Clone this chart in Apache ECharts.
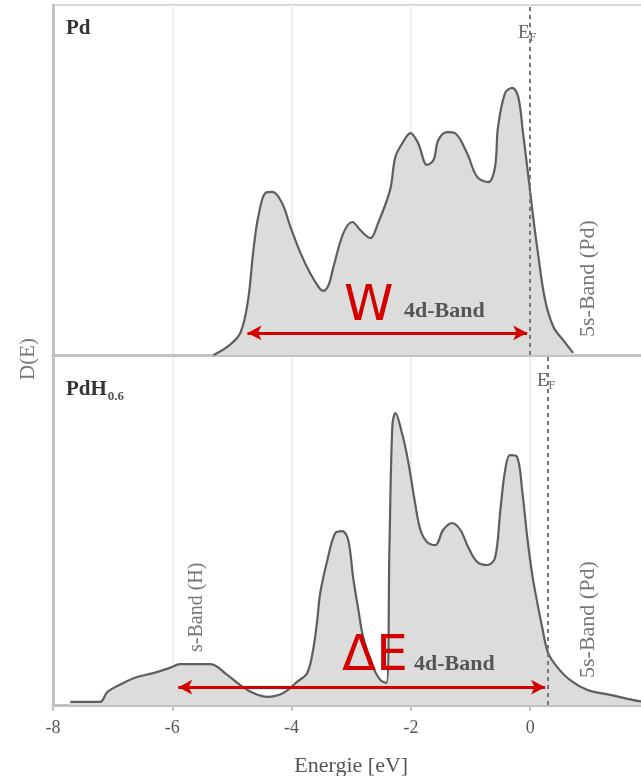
<!DOCTYPE html>
<html lang="de">
<head>
    <meta charset="UTF-8">
    <title>Zustandsdichte Pd / PdH</title>
    <script type="text/javascript" src="https://cdn.jsdelivr.net/npm/echarts@6/dist/echarts.min.js"></script>
    <style>
        html, body { margin: 0; padding: 0; background: #fff; }
        #chart { width: 641px; height: 776px; }
    </style>
</head>
<body>
<div id="chart"></div>
<script>
    // Pd: Energie [eV] und D(E) (willkuerliche Einheiten, 0..100)
    const pdEnergy = [-5.31, -5.08, -4.86, -4.73, -4.64, -4.56, -4.44, -4.32, -4.16, -4.02, -3.85, -3.69, -3.55,
        -3.47, -3.38, -3.30, -3.13, -2.98, -2.85, -2.68, -2.55, -2.35, -2.26, -2.14, -2.01, -1.88, -1.73, -1.62, -1.54,
        -1.39, -1.26, -1.06, -0.89, -0.70, -0.59, -0.54, -0.42, -0.30, -0.20, -0.12, -0.03, 0.05, 0.13, 0.25,
        0.39, 0.55, 0.72];
    const pdDos = [0, 2.3, 6.3, 15.7, 30, 39.4, 46.3, 46.6, 43.4, 36.6, 29.1, 23.4, 19.5,
        18.3, 20, 25.1, 34.9, 38, 35.7, 33.4, 37.7, 47.1, 56.6, 60.6, 63.4, 60.6, 54.3, 55.7, 61.4,
        63.7, 63.4, 57.7, 50.9, 49.4, 53.7, 65.1, 74.9, 76.3, 73.7, 63.4, 50.9, 39.4, 29.1, 15.7,
        8, 4.3, 0.6];

    // PdH0.6
    const pdhEnergy = [-7.71, -7.21, -7.09, -6.82, -6.59, -6.32, -6.04, -5.87, -5.36, -5.08, -4.86, -4.64, -4.41,
        -4.14, -3.91, -3.74, -3.64, -3.57, -3.52, -3.40, -3.27, -3.15, -3.05, -2.97, -2.88, -2.80, -2.65, -2.51,
        -2.41, -2.36, -2.31, -2.26, -2.15, -2.05, -1.93, -1.84, -1.73, -1.59, -1.46, -1.31, -1.17, -1.04, -0.89,
        -0.72, -0.59, -0.50, -0.42, -0.34, -0.22, -0.13, -0.05, 0.03, 0.12, 0.20, 0.30, 0.45, 0.67, 0.96, 1.34,
        1.73, 2.0];
    const pdhDos = [0.9, 0.9, 3.7, 6.3, 8, 9.1, 10.6, 11.7, 11.7, 8.6, 5.7, 3.4, 2.3,
        3.4, 6.6, 9.1, 15.7, 24.3, 32, 41.4, 49.1, 49.7, 47.1, 36.6, 27.1, 19.4, 11.4, 7.1,
        6.3, 45, 80, 83.4, 77.7, 70, 57.7, 50, 46.6, 45.7, 50, 52, 50, 45.1, 40.9,
        40, 42, 55.7, 67.1, 71.4, 70.9, 60.6, 48, 37.7, 29.1, 22.3, 14.9, 10.9, 7.1, 4.3, 2.9,
        1.4, 0.7];

    const xTicks = [-8, -6, -4, -2, 0];
    const fermiPd = 0;
    const fermiPdH = 0.3;
    const bandW = [-4.74, -0.05];      // Breite W des 4d-Bandes (Pd)
    const bandDeltaE = [-5.9, 0.25];   // Abstand Delta E (PdH)

    const serif = '"Liberation Serif", "DejaVu Serif", serif';
    const axisGray = '#c2c2c2';
    const red = '#d40000';

    const chart = echarts.init(document.getElementById('chart'));

    const pair = (xs, ys) => xs.map((x, i) => [x, ys[i]]);

    function xAxisOf(idx, showLabels) {
        return {
            type: 'value',
            gridIndex: idx,
            min: -8,
            max: 2,
            interval: 2,
            axisLine: { show: true, onZero: false, lineStyle: { color: axisGray, width: 3 } },
            axisTick: { show: showLabels, length: 6, lineStyle: { color: axisGray, width: 2 } },
            axisLabel: {
                show: showLabels, fontFamily: serif, fontSize: 18, color: '#555', margin: 14,
                formatter: v => xTicks.indexOf(v) >= 0 ? String(v) : ''
            },
            splitLine: { show: true, lineStyle: { color: '#eeeeee', width: 2 } },
            name: showLabels ? 'Energie [eV]' : '',
            nameLocation: 'middle',
            nameGap: 50,
            nameTextStyle: { fontFamily: serif, fontSize: 22, color: '#555' }
        };
    }

    function yAxisOf(idx) {
        return {
            type: 'value',
            gridIndex: idx,
            min: 0,
            max: 100,
            axisLine: { show: true, onZero: false, lineStyle: { color: axisGray, width: 3 } },
            axisTick: { show: false },
            axisLabel: { show: false },
            splitLine: { show: false }
        };
    }

    function dosSeries(idx, data, fermi) {
        return {
            type: 'line',
            xAxisIndex: idx,
            yAxisIndex: idx,
            data: data,
            smooth: 0.35,
            showSymbol: false,
            lineStyle: { color: '#5e5e5e', width: 2.2 },
            areaStyle: { color: '#dcdcdc', opacity: 1 },
            z: 2,
            markLine: {
                silent: true,
                animation: false,
                symbol: 'none',
                label: { show: false },
                lineStyle: { type: [4, 4], color: '#777', width: 2 },
                data: [{ xAxis: fermi }]
            }
        };
    }

    function arrowSeries(idx, range, y) {
        return {
            type: 'line',
            xAxisIndex: idx,
            yAxisIndex: idx,
            data: [],
            z: 5,
            markLine: {
                silent: true,
                animation: false,
                symbol: ['arrow', 'arrow'],
                symbolSize: [11, 14],
                label: { show: false },
                lineStyle: { color: red, width: 3, type: 'solid' },
                data: [[{ coord: [range[0], y] }, { coord: [range[1], y] }]]
            }
        };
    }

    function txt(x, y, text, style, rot) {
        return {
            type: 'text', x: x, y: y, rotation: rot || 0, z: 10,
            style: Object.assign({ text: text, fill: '#555', font: '15px ' + serif }, style)
        };
    }

    function fermiLabel(x, y) {
        return {
            type: 'text', x: x, y: y, z: 10,
            style: {
                text: '{e|E}{f|F}',
                rich: {
                    e: { font: '19px ' + serif, fill: '#666' },
                    f: { font: '12px ' + serif, fill: '#666', padding: [10, 0, 0, 0] }
                }
            }
        };
    }

    const option = {
        animation: false,
        grid: [
            {
                left: 53, top: 5, width: 596.5, height: 350, outerBoundsMode: 'none',
                show: true, borderColor: '#d6d6d6', borderWidth: 2
            },
            { left: 53, top: 355, width: 596.5, height: 350, outerBoundsMode: 'none' }
        ],
        xAxis: [xAxisOf(0, false), xAxisOf(1, true)],
        yAxis: [yAxisOf(0), yAxisOf(1)],
        series: [
            dosSeries(0, pair(pdEnergy, pdDos), fermiPd),
            dosSeries(1, pair(pdhEnergy, pdhDos), fermiPdH),
            arrowSeries(0, bandW, 6.3),
            arrowSeries(1, bandDeltaE, 5.1)
        ],
        graphic: [
            txt(66, 18, 'Pd', { font: 'bold 21px ' + serif, fill: '#333' }),
            {
                type: 'text', x: 66, y: 376, z: 10,
                style: {
                    text: '{b|PdH}{s|0.6}',
                    rich: {
                        b: { font: 'bold 21px ' + serif, fill: '#333' },
                        s: { font: 'bold 13px ' + serif, fill: '#555', padding: [14, 0, 0, 1] }
                    }
                }
            },
            fermiLabel(518, 22),
            fermiLabel(537, 370),
            txt(344, 282, 'W', { font: '50px "DejaVu Sans", sans-serif', fill: red }),
            txt(404, 300, '4d-Band', { font: 'bold 22px ' + serif, fill: '#555' }),
            txt(342, 632, 'ΔE', { font: '50px "DejaVu Sans", sans-serif', fill: red }),
            txt(414, 653, '4d-Band', { font: 'bold 22px ' + serif, fill: '#555' }),
            txt(577, 337, '5s-Band (Pd)', { font: '22px ' + serif, fill: '#777' }, Math.PI / 2),
            txt(577, 678, '5s-Band (Pd)', { font: '22px ' + serif, fill: '#777' }, Math.PI / 2),
            txt(187, 652, 's-Band (H)', { font: '20px ' + serif, fill: '#777' }, Math.PI / 2),
            txt(18, 380, 'D(E)', { font: '21px ' + serif, fill: '#777' }, Math.PI / 2)
        ]
    };

    chart.setOption(option);
    window.onresize = chart.resize;
</script>
</body>
</html>
